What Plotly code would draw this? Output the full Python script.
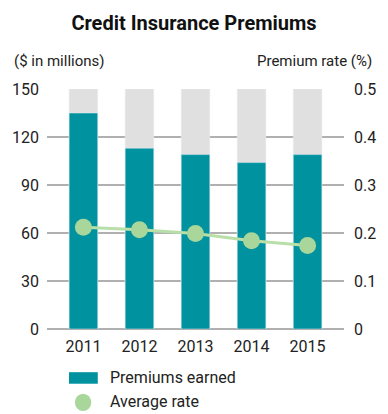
import plotly.graph_objects as go

years = ["2011", "2012", "2013", "2014", "2015"]
premiums_earned = [135, 113, 109, 104, 109]   # $ millions
average_rate = [0.212, 0.207, 0.199, 0.184, 0.174]  # %
axis_max = [150, 150, 150, 150, 150]

left_ticks = [0, 30, 60, 90, 120, 150]
right_ticks = [0, 0.1, 0.2, 0.3, 0.4, 0.5]
right_tick_text = ["0", "0.1", "0.2", "0.3", "0.4", "0.5"]

TEAL = "#00929f"
GREY = "#e0e0e0"
GREEN = "#a9d69b"
LINE_GREEN = "#b9dfa9"
FONT = "Roboto"

fig = go.Figure()

# background columns up to the axis maximum
fig.add_trace(go.Bar(x=years, y=axis_max, marker_color=GREY, width=0.51,
                     showlegend=False, hoverinfo="skip"))
fig.add_trace(go.Bar(x=years, y=premiums_earned, marker_color=TEAL, width=0.51,
                     name="Premiums earned", showlegend=False))
fig.add_trace(go.Scatter(x=years, y=average_rate, yaxis="y2", mode="lines+markers",
                         line=dict(color=LINE_GREEN, width=3),
                         marker=dict(color=GREEN, size=17),
                         name="Average rate", showlegend=False))

fig.update_layout(
    width=388, height=414,
    margin=dict(l=47, r=31, t=89, b=85),
    paper_bgcolor="white", plot_bgcolor="white",
    barmode="overlay",
    font=dict(family=FONT, size=16, color="#222222"),
    title=dict(text="<b>Credit Insurance Premiums</b>", x=0.5, xanchor="center",
               y=0.945, yanchor="middle", font=dict(family=FONT, size=20, color="#111111")),
    xaxis=dict(type="category", range=[-0.65, 4.65], showgrid=False, showline=False,
               ticks="", tickfont=dict(size=16), ticklabelstandoff=6),
    yaxis=dict(range=[0, 150], tickvals=left_ticks, showgrid=True, gridcolor="#b0b0b0",
               gridwidth=1.5, zeroline=True, zerolinecolor="#b0b0b0", zerolinewidth=1.5,
               ticks="", ticklabelstandoff=7, tickfont=dict(size=16)),
    yaxis2=dict(range=[0, 0.5], tickvals=right_ticks, ticktext=right_tick_text,
                overlaying="y", side="right", showgrid=False, zeroline=False,
                ticks="", ticklabelstandoff=9, tickfont=dict(size=16)),
    showlegend=False,
)

# axis titles
fig.add_annotation(text="($ in millions)", xref="paper", yref="paper", x=-0.118, y=1.115,
                   xanchor="left", yanchor="middle", showarrow=False, font=dict(size=15))
fig.add_annotation(text="Premium rate (%)", xref="paper", yref="paper", x=1.1, y=1.115,
                   xanchor="right", yanchor="middle", showarrow=False, font=dict(size=15))

# legend
fig.add_shape(type="rect", xref="paper", yref="paper", x0=0.074, x1=0.171,
              y0=-0.228, y1=-0.18, fillcolor=TEAL, line=dict(width=0))
fig.add_annotation(text="Premiums earned", xref="paper", yref="paper", x=0.206, y=-0.203,
                   xanchor="left", yanchor="middle", showarrow=False, font=dict(size=16))
fig.add_shape(type="circle", xref="paper", yref="paper", x0=0.094, x1=0.149,
              y0=-0.342, y1=-0.27, fillcolor=GREEN, line=dict(width=0))
fig.add_annotation(text="Average rate", xref="paper", yref="paper", x=0.206, y=-0.304,
                   xanchor="left", yanchor="middle", showarrow=False, font=dict(size=16))

fig.write_html("out.html")
